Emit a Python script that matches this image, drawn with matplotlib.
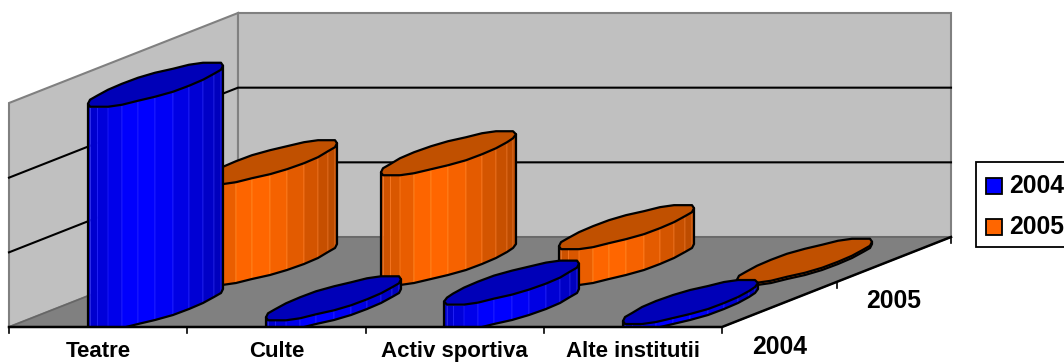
import numpy as np
import matplotlib
matplotlib.use('Agg')
import matplotlib.pyplot as plt
from matplotlib.patches import Polygon, Rectangle

plt.rcParams['font.family'] = ['Liberation Sans', 'DejaVu Sans']

categories = ['Teatre', 'Culte', 'Activ sportiva', 'Alte institutii']
series_names = ['2004', '2005']
values_2004 = [299, 13, 34, 8]
values_2005 = [135, 147, 48, 3]
value_ticks = [0, 100, 200, 300]

# chart box in pixels: floor front-left corner, front width, depth offset, wall height
X0, Y0 = 9, 327
FRONT_W = 713
DEPTH_X, DEPTH_Y = 229, -90
WALL_H = 224
VALUE_MAX = value_ticks[-1]
GAP_WIDTH = 1.5
FACETS = 24
BASE_DROP = 3.5

WALL = '#C0C0C0'
FLOOR = '#808080'
EDGE = '#808080'
COLORS = {'2004': (0, 0, 1), '2005': (1, 0.4, 0)}
TOPS = {'2004': '#0000B8', '2005': '#C05000'}


# Oblique projection: category units, depth units (0..number of series), value
def project(cat, depth, val):
    cat_w = FRONT_W / len(categories)
    d = depth / len(series_names)
    x = X0 + cat * cat_w + d * DEPTH_X
    y = Y0 + d * DEPTH_Y - val / VALUE_MAX * WALL_H
    return x, y


def shade(rgb, f):
    return tuple(c * f for c in rgb)


def draw_cylinder(ax, cat, row, value, name, z):
    cat_w = FRONT_W / len(categories)
    rx = cat_w / (1 + GAP_WIDTH) / 2
    dx = DEPTH_X / len(series_names) / 2
    dy = DEPTH_Y / len(series_names) / 2
    cx, cy = project(cat + 0.5, row + 0.5, 0)
    cy += BASE_DROP
    height = value / VALUE_MAX * WALL_H

    # start on the rightmost silhouette point so both silhouette points are vertices
    t0 = np.arctan2(dx, rx)
    theta = t0 + np.arange(FACETS) * 2 * np.pi / FACETS
    xs = np.round(cx + rx * np.cos(theta) + dx * np.sin(theta))
    ys = np.round(cy + dy * np.sin(theta))

    clip = Rectangle((0, 0), 1064, Y0, transform=ax.transData)

    # visible side runs from the leftmost vertex round the front to the rightmost
    half = FACETS // 2
    order = [(half + i) % FACETS for i in range(half + 1)]
    span = xs[order[-1]] - xs[order[0]]
    for a, b in zip(order[:-1], order[1:]):
        pos = ((xs[a] + xs[b]) / 2 - xs[order[0]]) / span
        f = np.interp(pos, [0, 0.32, 0.5, 1], [0.78, 1.0, 1.0, 0.72])
        col = shade(COLORS[name], f)
        light = tuple(min(1, c + 0.14) for c in col)
        quad = Polygon([(xs[a], ys[a]), (xs[b], ys[b]),
                        (xs[b], ys[b] - height), (xs[a], ys[a] - height)],
                       facecolor=col, edgecolor=light, linewidth=0.5, zorder=z)
        ax.add_patch(quad)
        quad.set_clip_path(clip)

    # outline of the side
    side_x = [xs[i] for i in order]
    side_y = [ys[i] for i in order]
    outline = Polygon(list(zip(side_x, side_y)) +
                      [(side_x[-1], side_y[-1] - height), (side_x[0], side_y[0] - height)],
                      fill=False, edgecolor='black', linewidth=1.6, zorder=z + 0.1,
                      joinstyle='round')
    ax.add_patch(outline)
    outline.set_clip_path(clip)

    top = Polygon(list(zip(xs, ys - height)), facecolor=TOPS[name], edgecolor='black',
                  linewidth=1.6, zorder=z + 0.2, joinstyle='round')
    ax.add_patch(top)
    top.set_clip_path(clip)


fig = plt.figure(figsize=(10.64, 3.63), dpi=100)
ax = fig.add_axes([0, 0, 1, 1])
ax.set_xlim(0, 1064)
ax.set_ylim(363, 0)
ax.axis('off')

n_cat = len(categories)
n_ser = len(series_names)
vmax = VALUE_MAX

# walls and floor
ax.add_patch(Polygon([project(0, 0, 0), project(0, 0, vmax), project(0, n_ser, vmax), project(0, n_ser, 0)],
                     facecolor=WALL, edgecolor=EDGE, linewidth=1.5, zorder=1))
ax.add_patch(Polygon([project(0, n_ser, 0), project(0, n_ser, vmax), project(n_cat, n_ser, vmax), project(n_cat, n_ser, 0)],
                     facecolor=WALL, edgecolor=EDGE, linewidth=1.5, zorder=1))
ax.add_patch(Polygon([project(0, 0, 0), project(n_cat, 0, 0), project(n_cat, n_ser, 0), project(0, n_ser, 0)],
                     facecolor=FLOOR, edgecolor='#666666', linewidth=1.2, zorder=1.5))

# value gridlines along the left and back walls
for v in value_ticks[1:-1]:
    pts = [project(0, 0, v), project(0, n_ser, v), project(n_cat, n_ser, v)]
    ax.plot(*zip(*pts), color='black', linewidth=1.5, zorder=2, solid_joinstyle='miter')

# back row first, each cylinder stacked over the one before it
z = 3
for row, (name, vals) in reversed(list(enumerate(zip(series_names, [values_2004, values_2005])))):
    for cat, val in enumerate(vals):
        draw_cylinder(ax, cat, row, val, name, z)
        z += 1

# floor front and side axes with ticks
ax.plot(*zip(project(0, 0, 0), project(n_cat, 0, 0), project(n_cat, n_ser, 0)),
        color='black', linewidth=1.8, zorder=20, solid_joinstyle='miter')
for c in range(n_cat + 1):
    x, y = project(c, 0, 0)
    ax.plot([x, x], [y, y + 6], color='black', linewidth=1.2, zorder=20)
for r in range(1, n_ser + 1):
    x, y = project(n_cat, r, 0)
    ax.plot([x, x], [y, y + 6], color='black', linewidth=1.2, zorder=20)

# baseline kept high enough that descenders stay on the canvas
for c, label in enumerate(categories):
    x, y = project(c + 0.5, 0, 0)
    ax.text(x, y + 30, label, ha='center', va='baseline', fontsize=16, fontweight='bold', zorder=21)

ser_pos = [(780, 347), (894, 301)]
for name, (x, y) in zip(series_names, ser_pos):
    ax.text(x, y, name, ha='center', va='center', fontsize=17.8, fontweight='bold', zorder=21)

# legend box runs off the right edge of the figure
ax.add_patch(Rectangle((976, 162), 110, 85, facecolor='white', edgecolor='black', linewidth=1.3, zorder=21))
for name, y in zip(series_names, [186, 227]):
    ax.add_patch(Rectangle((986, y - 8), 16, 16, facecolor=COLORS[name], edgecolor='black', linewidth=1.3, zorder=22))
    ax.text(1009, y, name, ha='left', va='center', fontsize=17.8, fontweight='bold', zorder=22)

fig.savefig('out.png', dpi=100)
